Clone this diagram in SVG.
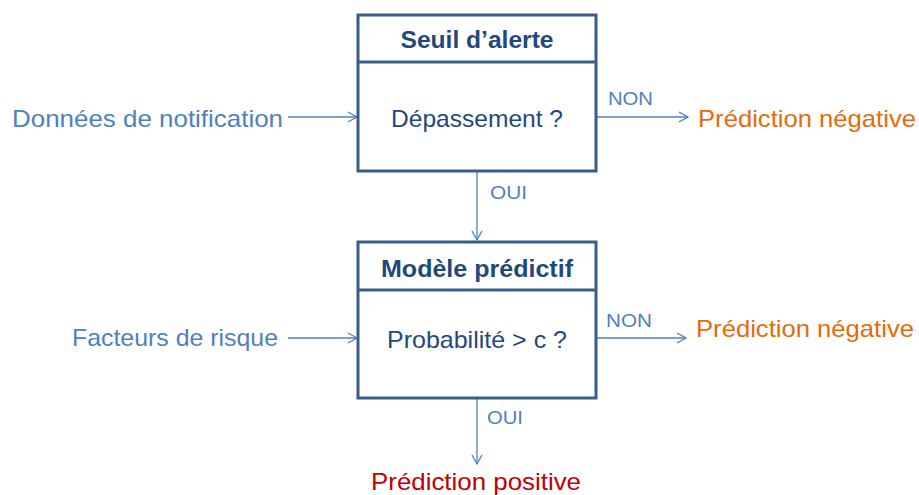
<svg xmlns="http://www.w3.org/2000/svg" width="919" height="495" viewBox="0 0 919 495">
<defs>
<marker id="arr" markerWidth="12" markerHeight="12" refX="10" refY="6" orient="auto" markerUnits="userSpaceOnUse">
<path d="M1,1 L10,6 L1,11" fill="none" stroke="#4F81BD" stroke-width="1.3"/>
</marker>
<style>
.box{fill:#fff;stroke:#385D8A;stroke-width:3}
.div{stroke:#385D8A;stroke-width:3}
.con{stroke:#4F81BD;stroke-width:1.3;fill:none;marker-end:url(#arr)}
text{font-family:"Liberation Sans",Arial,sans-serif}
.title{font-weight:bold;fill:#1F497D;font-size:24px;text-anchor:middle}
.q{fill:#1F497D;font-size:24px;text-anchor:middle}
.in{fill:#4F81BD;font-size:24px}
.lab{fill:#4F81BD;font-size:19px}
.neg{fill:#E46C0A;font-size:24px}
.pos{fill:#C00000;font-size:24px}
</style>
</defs>
<rect width="919" height="495" fill="#fff"/>
<g id="connectors">
<line class="con" x1="288" y1="117" x2="357" y2="117"/>
<line class="con" x1="597" y1="117" x2="688" y2="117"/>
<line class="con" x1="477" y1="172" x2="477" y2="240"/>
<line class="con" x1="288" y1="338" x2="357" y2="338"/>
<line class="con" x1="597" y1="338" x2="686" y2="338"/>
<line class="con" x1="477" y1="399" x2="477" y2="464"/>
<text class="lab" x="608" y="105" textLength="45" lengthAdjust="spacingAndGlyphs">NON</text>
<text class="lab" x="490" y="199" textLength="37" lengthAdjust="spacingAndGlyphs">OUI</text>
<text class="lab" x="606" y="327" textLength="46" lengthAdjust="spacingAndGlyphs">NON</text>
<text class="lab" x="487" y="424" textLength="36" lengthAdjust="spacingAndGlyphs">OUI</text>
</g>
<g id="seuil">
<rect class="box" x="358" y="15" width="238" height="156"/>
<line class="div" x1="358" y1="62" x2="596" y2="62"/>
<text class="title" x="477" y="48" textLength="153" lengthAdjust="spacingAndGlyphs">Seuil d’alerte</text>
<text class="q" x="477" y="127" textLength="172" lengthAdjust="spacingAndGlyphs">Dépassement ?</text>
</g>
<g id="modele">
<rect class="box" x="358" y="242" width="238" height="156"/>
<line class="div" x1="358" y1="290" x2="596" y2="290"/>
<text class="title" x="477" y="277" textLength="192" lengthAdjust="spacingAndGlyphs">Modèle prédictif</text>
<text class="q" x="477" y="348" textLength="180" lengthAdjust="spacingAndGlyphs">Probabilité &gt; c ?</text>
</g>
<g id="donnees"><text class="in" x="12" y="127" textLength="271" lengthAdjust="spacingAndGlyphs">Données de notification</text></g>
<g id="facteurs"><text class="in" x="72" y="346" textLength="206" lengthAdjust="spacingAndGlyphs">Facteurs de risque</text></g>
<g id="neg1"><text class="neg" x="698" y="127" textLength="218" lengthAdjust="spacingAndGlyphs">Prédiction négative</text></g>
<g id="neg2"><text class="neg" x="696" y="337" textLength="218" lengthAdjust="spacingAndGlyphs">Prédiction négative</text></g>
<g id="pos"><text class="pos" x="371" y="490" textLength="210" lengthAdjust="spacingAndGlyphs">Prédiction positive</text></g>
</svg>
